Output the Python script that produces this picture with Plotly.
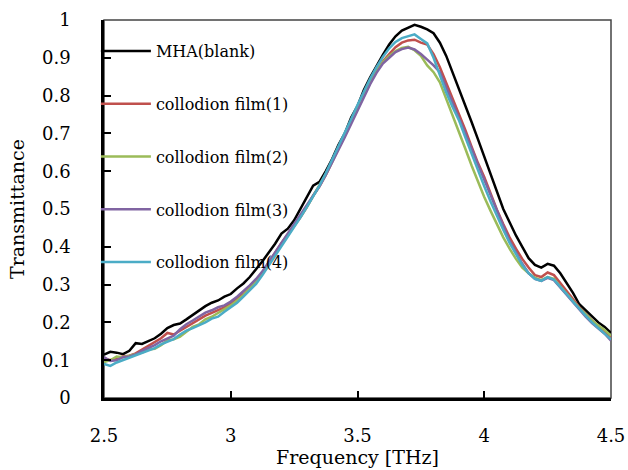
import numpy as np
import plotly.graph_objects as go

freq = [round(2.5 + 0.025 * i, 3) for i in range(81)]

mha_blank = [0.115, 0.122, 0.120, 0.116, 0.125, 0.145, 0.143, 0.150, 0.158, 0.170,
             0.185, 0.193, 0.197, 0.208, 0.220, 0.232, 0.243, 0.252, 0.258, 0.268,
             0.275, 0.290, 0.303, 0.320, 0.340, 0.362, 0.385, 0.408, 0.435, 0.448,
             0.470, 0.500, 0.530, 0.562, 0.572, 0.600, 0.632, 0.670, 0.700, 0.742,
             0.772, 0.815, 0.848, 0.880, 0.908, 0.935, 0.957, 0.972, 0.980, 0.987,
             0.982, 0.975, 0.965, 0.940, 0.905, 0.862, 0.820, 0.775, 0.730, 0.685,
             0.640, 0.590, 0.545, 0.500, 0.465, 0.430, 0.400, 0.370, 0.352, 0.345,
             0.355, 0.350, 0.330, 0.305, 0.278, 0.248, 0.232, 0.215, 0.200, 0.188,
             0.172]

film1 = [0.105, 0.100, 0.105, 0.110, 0.112, 0.118, 0.128, 0.138, 0.148, 0.158,
         0.172, 0.168, 0.178, 0.188, 0.198, 0.208, 0.218, 0.225, 0.232, 0.240,
         0.250, 0.262, 0.275, 0.292, 0.310, 0.332, 0.358, 0.385, 0.410, 0.432,
         0.455, 0.478, 0.505, 0.535, 0.560, 0.590, 0.625, 0.660, 0.695, 0.730,
         0.765, 0.800, 0.835, 0.865, 0.890, 0.910, 0.928, 0.940, 0.946, 0.948,
         0.940, 0.935, 0.910, 0.875, 0.835, 0.795, 0.755, 0.710, 0.665, 0.622,
         0.585, 0.540, 0.498, 0.460, 0.425, 0.395, 0.368, 0.345, 0.325, 0.320,
         0.332, 0.325, 0.305, 0.285, 0.262, 0.240, 0.222, 0.205, 0.190, 0.175,
         0.160]

film2 = [0.095, 0.100, 0.110, 0.108, 0.112, 0.115, 0.120, 0.128, 0.130, 0.140,
         0.152, 0.155, 0.162, 0.175, 0.188, 0.195, 0.208, 0.215, 0.225, 0.235,
         0.245, 0.258, 0.272, 0.290, 0.308, 0.330, 0.355, 0.382, 0.408, 0.432,
         0.455, 0.480, 0.505, 0.535, 0.562, 0.592, 0.625, 0.660, 0.695, 0.730,
         0.765, 0.800, 0.835, 0.865, 0.888, 0.905, 0.918, 0.926, 0.929, 0.920,
         0.905, 0.880, 0.862, 0.835, 0.792, 0.750, 0.705, 0.660, 0.615, 0.572,
         0.532, 0.495, 0.460, 0.425, 0.395, 0.368, 0.345, 0.330, 0.318, 0.312,
         0.320, 0.315, 0.295, 0.275, 0.255, 0.238, 0.222, 0.205, 0.192, 0.180,
         0.165]

film3 = [0.108, 0.098, 0.100, 0.108, 0.110, 0.115, 0.125, 0.132, 0.140, 0.150,
         0.158, 0.165, 0.182, 0.195, 0.205, 0.215, 0.226, 0.232, 0.240, 0.245,
         0.255, 0.268, 0.282, 0.298, 0.315, 0.335, 0.360, 0.385, 0.410, 0.435,
         0.458, 0.482, 0.508, 0.535, 0.560, 0.590, 0.622, 0.655, 0.690, 0.725,
         0.760, 0.795, 0.830, 0.860, 0.885, 0.900, 0.915, 0.923, 0.927, 0.922,
         0.910, 0.895, 0.880, 0.862, 0.822, 0.780, 0.745, 0.705, 0.660, 0.618,
         0.578, 0.535, 0.495, 0.455, 0.415, 0.385, 0.355, 0.330, 0.315, 0.310,
         0.318, 0.312, 0.292, 0.272, 0.252, 0.232, 0.215, 0.198, 0.185, 0.170,
         0.152]

film4 = [0.090, 0.085, 0.094, 0.100, 0.108, 0.112, 0.118, 0.125, 0.132, 0.142,
         0.150, 0.156, 0.168, 0.178, 0.185, 0.192, 0.200, 0.210, 0.215, 0.228,
         0.240, 0.252, 0.268, 0.285, 0.302, 0.325, 0.350, 0.375, 0.402, 0.428,
         0.452, 0.478, 0.505, 0.532, 0.562, 0.595, 0.630, 0.665, 0.700, 0.738,
         0.775, 0.810, 0.845, 0.875, 0.902, 0.925, 0.942, 0.952, 0.958, 0.962,
         0.950, 0.938, 0.900, 0.852, 0.808, 0.770, 0.735, 0.690, 0.645, 0.600,
         0.560, 0.520, 0.480, 0.445, 0.410, 0.380, 0.352, 0.330, 0.315, 0.310,
         0.320, 0.313, 0.295, 0.275, 0.255, 0.235, 0.218, 0.200, 0.185, 0.170,
         0.155]

series_names = ["MHA(blank)", "collodion film(1)", "collodion film(2)",
                "collodion film(3)", "collodion film(4)"]
series_values = [mha_blank, film1, film2, film3, film4]
series_colors = ["#000000", "#C0504D", "#9BBB59", "#8064A2", "#4BACC6"]

x_ticks = [2.5, 3, 3.5, 4, 4.5]
x_ticklabels = ["2.5", "3", "3.5", "4", "4.5"]
y_ticks = [0, 0.1, 0.2, 0.3, 0.4, 0.5, 0.6, 0.7, 0.8, 0.9, 1]
y_ticklabels = ["0", "0.1", "0.2", "0.3", "0.4", "0.5", "0.6", "0.7", "0.8", "0.9", "1"]
y_title = "Transmittance"

FONT = "DejaVu Serif"

fig = go.Figure()
for name, vals, col in zip(series_names, series_values, series_colors):
    fig.add_trace(go.Scatter(
        x=freq, y=vals, mode="lines", name=name, legendgroup=name,
        line=dict(color=col, width=2.5),
    ))

fig.update_layout(
    width=628, height=470,
    margin=dict(l=104, r=17, t=20, b=72),
    paper_bgcolor="white", plot_bgcolor="white",
    font=dict(family=FONT, size=18, color="black"),
    showlegend=True,
    legend=dict(
        x=-0.016, xanchor="left", y=0.963, yanchor="top",
        bgcolor="rgba(0,0,0,0)", font=dict(family=FONT, size=16, color="black"),
        tracegroupgap=29, itemwidth=50, traceorder="grouped",
    ),
    xaxis=dict(
        range=[2.5, 4.5], tickvals=x_ticks, ticktext=x_ticklabels,
        showgrid=False, zeroline=False, showline=True, linecolor="black", linewidth=2.5,
        ticks="inside", ticklen=7, tickwidth=2, tickcolor="black",
        ticklabelstandoff=20, tickfont=dict(family=FONT, size=18, color="black"),
        automargin=False,
        title=dict(text="Frequency [THz]", font=dict(family=FONT, size=19, color="black"), standoff=5),
    ),
    yaxis=dict(
        range=[0, 1], tickvals=y_ticks, ticktext=y_ticklabels,
        showgrid=False, zeroline=False, showline=True, linecolor="black", linewidth=2.5,
        ticks="inside", ticklen=7, tickwidth=2, tickcolor="black",
        ticklabelstandoff=27, tickfont=dict(family=FONT, size=18, color="black"),
        automargin=False,
    ),
    annotations=[dict(text=y_title, xref="paper", yref="paper", x=-0.1716, y=0.5,
                      xanchor="center", yanchor="middle", textangle=-90, showarrow=False,
                      font=dict(family=FONT, size=19, color="black"))],
    shapes=[dict(type="rect", xref="paper", yref="paper", x0=0, x1=1, y0=0, y1=1,
                 line=dict(color="#444444", width=1.5), layer="below")],
)

fig.write_html("out.html", config={"displayModeBar": False},
               post_script="document.body.style.margin='0';document.body.style.padding='0';")
